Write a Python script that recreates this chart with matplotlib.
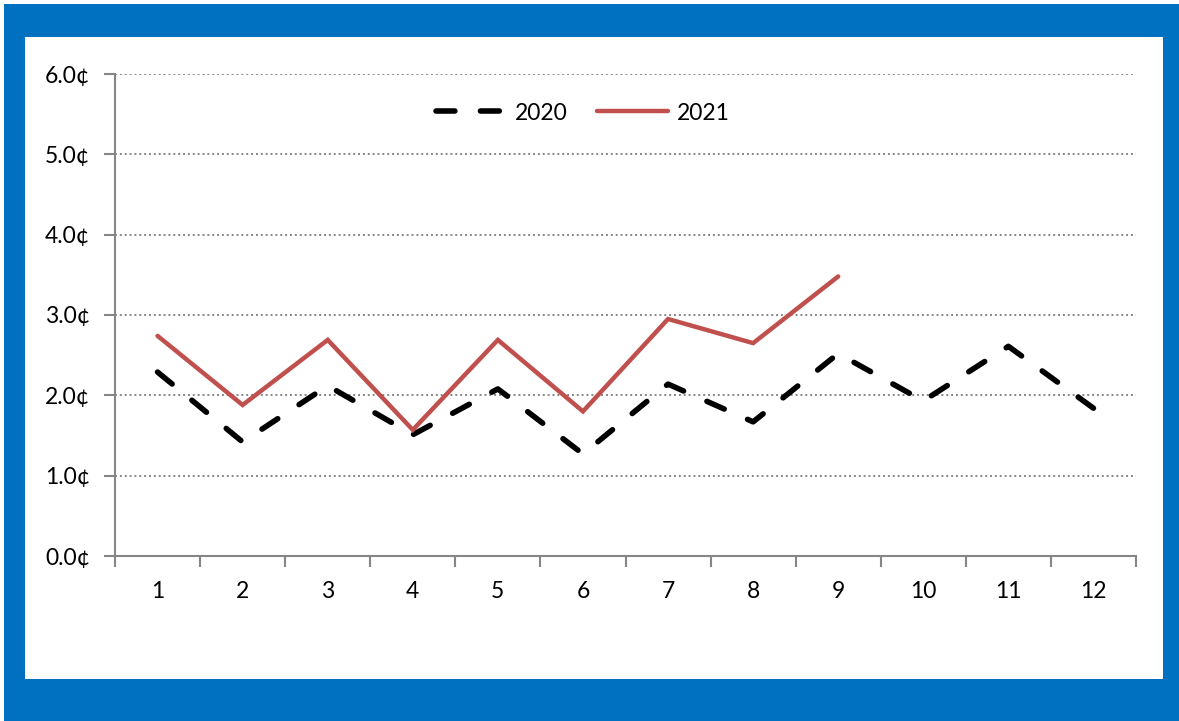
import matplotlib
matplotlib.use("Agg")
import matplotlib.pyplot as plt
from matplotlib.patches import Rectangle
from matplotlib.ticker import FixedLocator, FuncFormatter, NullFormatter

months = [1, 2, 3, 4, 5, 6, 7, 8, 9, 10, 11, 12]
month_labels = ["1", "2", "3", "4", "5", "6", "7", "8", "9", "10", "11", "12"]
values_2020 = [2.29, 1.42, 2.12, 1.51, 2.08, 1.27, 2.14, 1.67, 2.52, 1.93, 2.61, 1.84]
months_2021 = [1, 2, 3, 4, 5, 6, 7, 8, 9]
values_2021 = [2.74, 1.88, 2.69, 1.57, 2.69, 1.80, 2.95, 2.65, 3.48]
y_ticks = [0, 1, 2, 3, 4, 5, 6]

plt.rcParams['font.family'] = ['Lato', 'DejaVu Sans']

W, H = 1179, 721
fig = plt.figure(figsize=(W / 100, H / 100), dpi=100)
fig.patch.set_facecolor("white")

blue = "#0070C0"
fig.patches.append(Rectangle((4 / W, 0), 1 - 4 / W, 1 - 4 / H, transform=fig.transFigure,
                             facecolor=blue, edgecolor="none", zorder=0))
fig.patches.append(Rectangle((25 / W, 1 - 679 / H), (1163 - 25) / W, (679 - 37) / H,
                             transform=fig.transFigure, facecolor="white", edgecolor="none", zorder=1))

left, right, top, bottom = 115, 1136, 74, 556
ax = fig.add_axes([left / W, 1 - bottom / H, (right - left) / W, (bottom - top) / H])
ax.set_facecolor("none")
ax.set_zorder(2)

grey = "#868686"
ax.set_xlim(0.5, 12.5)
ax.set_ylim(0, 6)

for y in y_ticks[1:]:
    ax.axhline(y, color=grey, linestyle=(0, (1, 1.5)), linewidth=1.4, zorder=1)

ax.plot(months, values_2020, color="black", linewidth=4.0, linestyle=(0, (3.4, 4.6)),
        dash_capstyle="round", solid_capstyle="round", label="2020", zorder=3)
ax.plot(months_2021, values_2021, color="#C0504D", linewidth=3.2,
        solid_capstyle="round", solid_joinstyle="miter", label="2021", zorder=4)

for s in ["top", "right"]:
    ax.spines[s].set_visible(False)
for s in ["left", "bottom"]:
    ax.spines[s].set_color(grey)
    ax.spines[s].set_linewidth(1.5)

fs = 16.5
ax.yaxis.set_major_locator(FixedLocator(y_ticks))
ax.yaxis.set_major_formatter(FuncFormatter(lambda v, p: f"{v:.1f}\u00a2"))
ax.tick_params(axis="y", length=8, width=1.5, color=grey, labelsize=fs, pad=10, labelcolor="black")

ax.xaxis.set_major_locator(FixedLocator([m - 0.5 for m in months] + [12.5]))
ax.xaxis.set_major_formatter(NullFormatter())
ax.xaxis.set_minor_locator(FixedLocator(months))
ax.set_xticklabels(month_labels, minor=True)
ax.tick_params(axis="x", which="major", length=8, width=1.5, color=grey)
ax.tick_params(axis="x", which="minor", length=0, labelsize=fs, pad=18, labelcolor="black")
ax.spines["bottom"].set_bounds(0.5, 12.5)

leg = ax.legend(loc="center", bbox_to_anchor=(0.458, 1 - 39 / 482), ncol=2, frameon=False,
                fontsize=fs, handlelength=3.1, columnspacing=1.3, handletextpad=0.35)

fig.savefig("out.png", dpi=100, facecolor=fig.get_facecolor())
